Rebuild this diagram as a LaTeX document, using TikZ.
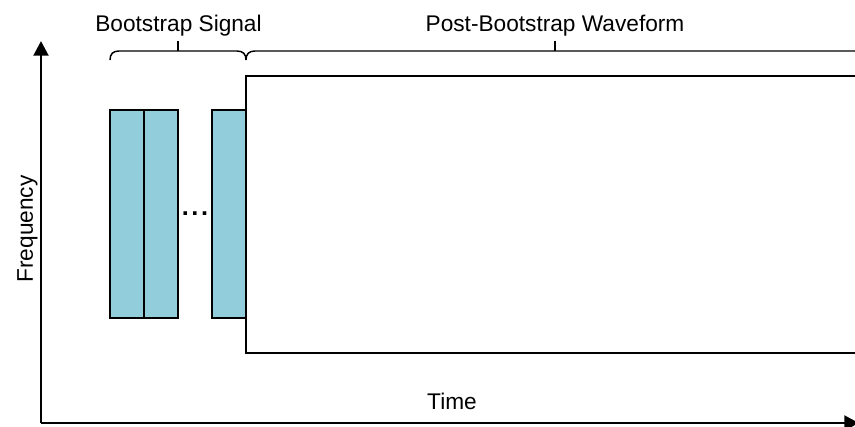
\documentclass[tikz,border=0pt]{standalone}
\usepackage{fontspec}
\setmainfont{Liberation Sans}
\usetikzlibrary{arrows.meta}
\definecolor{bootblue}{RGB}{146,205,220}

\tikzset{
  axis/.style={line width=2.2pt, -{Triangle[length=11pt,width=11pt]}},
  symbolbox/.style={draw, line width=1.1pt, fill=bootblue},
  wavebox/.style={draw, line width=1.1pt},
  brace/.style={line width=1.1pt},
  lbl/.style={font=\fontsize{17}{20}\selectfont, inner sep=0pt, anchor=base},
}

\begin{document}
\begin{tikzpicture}[x=0.75pt, y=0.75pt]
    \useasboundingbox (0,0) rectangle (855,426);
    \clip (0,0) rectangle (855,426);
    %% Axes
    \coordinate (origin) at (41,3);
    \draw[axis] (origin) -- (41,385);
    \draw[axis] (origin) -- (859,3);
    \node[lbl] (time) at (452,17) {Time};
    \node[lbl, rotate=90] (freq) at (33,197) {Frequency};
    %% Bootstrap symbols
    \draw[symbolbox] (110,108) rectangle (144,316);
    \draw[symbolbox] (144,108) rectangle (178,316);
    \draw[symbolbox] (212,108) rectangle (246,316);
    \node[inner sep=0pt, font=\fontsize{19}{20}\selectfont\bfseries] (dots) at (195,212)
      {.\hspace{2pt}.\hspace{2pt}.};
    %% Post-bootstrap waveform
    \draw[wavebox] (246,73) rectangle (870,350);
    %% Braces
    \draw[brace] (110,366) .. controls (110,372) and (113,375) .. (119,375)
      -- (237,375) .. controls (243,375) and (246,372) .. (246,366);
    \draw[brace] (178,375) -- (178,385);
    \draw[brace] (246,366) .. controls (246,372) and (249,375) .. (255,375)
      -- (870,375);
    \draw[brace] (555,375) -- (555,385);
    \node[lbl] (boot) at (178.5,394.3) {Bootstrap Signal};
    \node[lbl] (post) at (555,394.3) {Post-Bootstrap Waveform};
\end{tikzpicture}
\end{document}
